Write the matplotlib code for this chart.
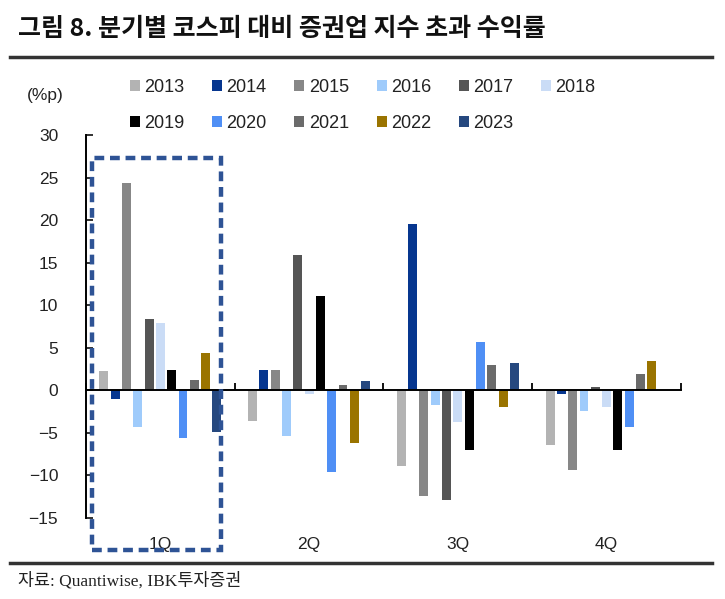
import numpy as np
import matplotlib
matplotlib.use("Agg")
import matplotlib.pyplot as plt
from matplotlib.patches import Rectangle

plt.rcParams['font.family'] = ['Liberation Sans', 'Noto Sans CJK KR', 'DejaVu Sans']
plt.rcParams['axes.unicode_minus'] = True

quarters = ["1Q", "2Q", "3Q", "4Q"]
years = ["2013", "2014", "2015", "2016", "2017", "2018",
         "2019", "2020", "2021", "2022", "2023"]

# excess return vs KOSPI per quarter, one value per year (2013..2023)
q1 = [2.2, -1.0, 24.3, -4.4, 8.4, 7.9, 2.4, -5.7, 1.2, 4.3, -4.9]
q2 = [-3.6, 2.4, 2.4, -5.4, 15.9, -0.5, 11.1, -9.6, 0.6, -6.2, 1.1]
q3 = [-8.9, 19.5, -12.5, -1.8, -12.9, -3.8, -7.0, 5.6, 2.9, -2.0, 3.2]
q4 = [-6.5, -0.5, -9.4, -2.5, 0.3, -2.0, -7.0, -4.4, 1.9, 3.4, np.nan]

colors = ["#b3b3b3", "#06368f", "#878787", "#9fcbfb", "#555555", "#cadcf6",
          "#000000", "#4f8ff5", "#6b6b6b", "#9a7400", "#26487f"]

values = np.array([q1, q2, q3, q4])  # shape (quarter, year)

fig = plt.figure(figsize=(7.25, 5.99), dpi=100)
ax = fig.add_axes([0.1186, 0.136, 0.8207, 0.6386])

x = np.arange(len(quarters))
step = 0.076
width = 0.06
handles = []
for k, yr in enumerate(years):
    vals = values[:, k]
    ok = ~np.isnan(vals)
    b = ax.bar(x[ok] + (k - 5) * step, vals[ok], width=width, color=colors[k],
               label=yr, zorder=2)
    handles.append(b)

ax.set_xlim(-0.5, 3.5)
ax.set_ylim(-15, 30)
ax.set_yticks(np.arange(-15, 31, 5))
ax.set_yticklabels([f"\u2212{abs(t)}" if t < 0 else str(t) for t in range(-15, 31, 5)])
ax.tick_params(axis='y', direction='in', length=5, width=1.3, pad=20,
               labelsize=12.5, colors='#222222')
ax.set_xticks(np.arange(-0.5, 3.6, 1))
ax.set_xticklabels([])
ax.tick_params(axis='x', direction='in', length=5, width=1.3)

for s in ['top', 'right']:
    ax.spines[s].set_visible(False)
ax.spines['bottom'].set_position(('data', 0))
ax.spines['bottom'].set_linewidth(1.4)
ax.spines['left'].set_linewidth(1.4)
ax.spines['bottom'].set_zorder(3)

# category labels below plot
trans = ax.get_xaxis_transform()
for xi, q in zip(x, quarters):
    ax.text(xi, -0.07, q, transform=trans, ha='center', va='center',
            fontsize=12.5, color='#222222')

# highlight box around 1Q
box = Rectangle((-0.46, -18.8), 0.868, 46.1, fill=False, edgecolor='#2e5395',
                linewidth=3.2, linestyle=(0, (2.2, 1.3)), clip_on=False, zorder=4)
ax.add_patch(box)

# legend, row-wise order over 6 columns
order = [0, 6, 1, 7, 2, 8, 3, 9, 4, 10, 5]
fig.legend([handles[i] for i in order], [years[i] for i in order],
           loc='upper left', bbox_to_anchor=(0.179, 0.868), ncol=6,
           frameon=False, fontsize=13, handlelength=0.55, handleheight=0.55,
           handletextpad=0.25, columnspacing=1.53, labelspacing=1.05,
           borderpad=0, borderaxespad=0, labelcolor='#222222')

fig.text(0.062, 0.84, "(%p)", ha='center', va='center', fontsize=12.5, color='#222222')

# title and rules
fig.text(0.025, 0.951, "그림 8. 분기별 코스피 대비 증권업 지수 초과 수익률",
         ha='left', va='center', fontsize=18, fontweight='bold',
         family=['Noto Sans CJK KR', 'DejaVu Sans'], color='#111111')
fig.add_artist(plt.Line2D([0.014, 0.982], [0.905, 0.905], color='#333333', linewidth=2.5))
fig.add_artist(plt.Line2D([0.014, 0.982], [0.06, 0.06], color='#333333', linewidth=2.5))
fig.text(0.025, 0.031, "자료: Quantiwise, IBK투자증권", ha='left', va='center',
         fontsize=12.5, family=['Liberation Serif', 'Noto Sans CJK KR'], color='#222222')

fig.savefig("out.png", dpi=100)
